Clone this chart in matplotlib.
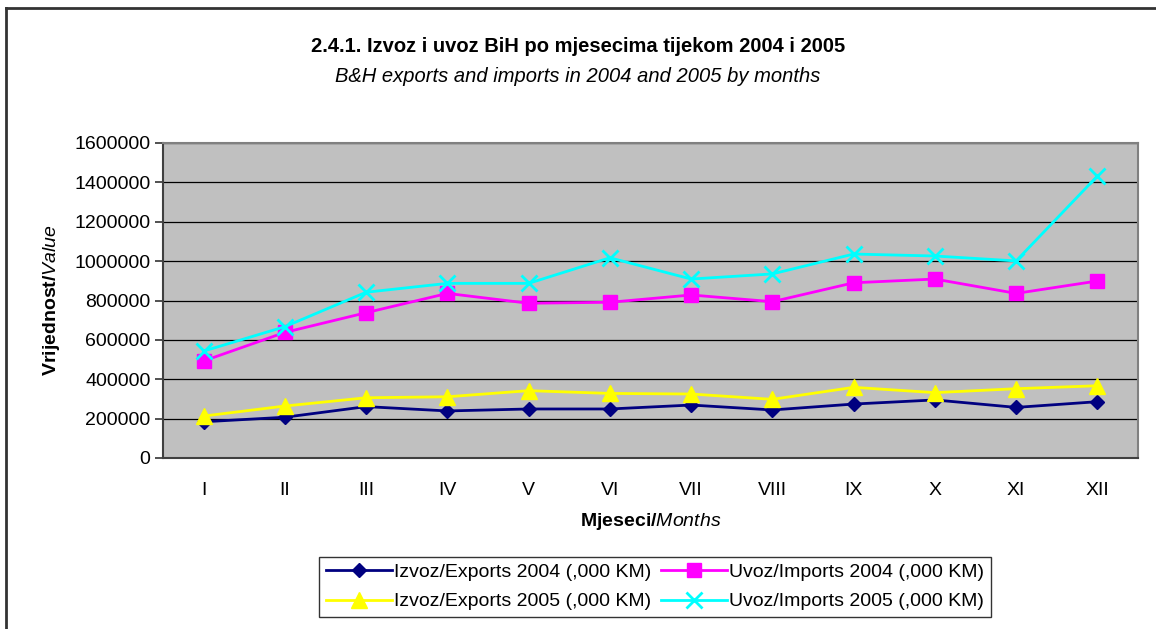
import numpy as np
import matplotlib
matplotlib.use('Agg')
import matplotlib.pyplot as plt
from matplotlib.lines import Line2D

plt.rcParams['font.family'] = ['Liberation Sans', 'DejaVu Sans']
plt.rcParams['mathtext.fontset'] = 'custom'
plt.rcParams['mathtext.rm'] = 'Liberation Sans'
plt.rcParams['mathtext.bf'] = 'Liberation Sans:bold'
plt.rcParams['mathtext.it'] = 'Liberation Sans:italic'

# Mjeseci (rimski brojevi)
mjeseci = ['I', 'II', 'III', 'IV', 'V', 'VI', 'VII', 'VIII', 'IX', 'X', 'XI', 'XII']

# Vrijednosti u ,000 KM (ocitano sa grafika)
izvoz2004 = [184000, 207000, 261000, 239000, 249000, 249000, 269000, 244000, 274000, 295000, 257000, 286000]
uvoz2004 = [493000, 638000, 738000, 836000, 786000, 791000, 828000, 794000, 890000, 909000, 836000, 899000]
izvoz2005 = [213000, 264000, 306000, 311000, 342000, 328000, 325000, 298000, 359000, 332000, 352000, 367000]
uvoz2005 = [543000, 667000, 842000, 887000, 887000, 1017000, 909000, 935000, 1036000, 1026000, 1001000, 1432000]

yticks = [0, 200000, 400000, 600000, 800000, 1000000, 1200000, 1400000, 1600000]

W, H = 1156, 629
fig = plt.figure(figsize=(W / 100, H / 100), dpi=100)
ax = fig.add_axes([163 / W, 1 - 458 / H, (1138 - 163) / W, (458 - 143) / H])
ax.set_facecolor('#C0C0C0')

x = np.arange(len(mjeseci))
l1, = ax.plot(x, izvoz2004, color='#000080', lw=2, marker='D', ms=7, label='Izvoz/Exports 2004 (,000 KM)')
l2, = ax.plot(x, uvoz2004, color='#FF00FF', lw=2, marker='s', ms=10, label='Uvoz/Imports 2004 (,000 KM)')
l3, = ax.plot(x, izvoz2005, color='#FFFF00', lw=2, marker='^', ms=11, label='Izvoz/Exports 2005 (,000 KM)')
l4, = ax.plot(x, uvoz2005, color='#00FFFF', lw=2, marker='x', ms=11, mew=2, label='Uvoz/Imports 2005 (,000 KM)')

ax.set_xlim(-0.5, len(mjeseci) - 0.5)
ax.set_ylim(0, 1600000)
ax.set_yticks(yticks)
ax.set_yticklabels([str(v) for v in yticks], fontsize=14)
ax.set_xticks(x)
ax.set_xticklabels(mjeseci, fontsize=14)
ax.tick_params(axis='x', length=0, pad=17)
ax.tick_params(axis='y', length=6, width=1.2, color='#333333', pad=3)
ax.yaxis.grid(True, color='black', lw=0.9)
ax.set_axisbelow(True)

for s in ['left', 'bottom']:
    ax.spines[s].set_color('#404040')
    ax.spines[s].set_linewidth(1.5)
for s in ['top', 'right']:
    ax.spines[s].set_color('#808080')
    ax.spines[s].set_linewidth(1.5)

ax.set_xlabel(r'$\mathbf{Mjeseci/}\mathit{Months}$', fontsize=14)
ax.set_ylabel(r'$\mathbf{Vrijednost/}\mathit{Value}$', fontsize=14)
ax.xaxis.set_label_coords(0.5, -(521 - 458) / 315, transform=ax.transAxes)
ax.xaxis.label.set_va('center')
ax.yaxis.set_label_coords((52 - 163) / 975, 0.5, transform=ax.transAxes)
ax.yaxis.label.set_va('center')

fig.text(578 / W, 1 - 47 / H, '2.4.1. Izvoz i uvoz BiH po mjesecima tijekom 2004 i 2005',
         ha='center', va='center', fontsize=14.5, fontweight='bold')
fig.text(578 / W, 1 - 76 / H, 'B&H exports and imports in 2004 and 2005 by months',
         ha='center', va='center', fontsize=14.5, style='italic')

leg = fig.legend(handles=[l1, l3, l2, l4], ncol=2, loc='center',
                 bbox_to_anchor=(655 / W, 1 - 587 / H), fontsize=14,
                 frameon=True, fancybox=False, edgecolor='black',
                 handlelength=3.4, handletextpad=0.1, columnspacing=0.5,
                 borderpad=0.35, labelspacing=0.6, borderaxespad=0)
leg.get_frame().set_linewidth(1.0)

# okvir grafikona (gornja i lijeva ivica)
fig.add_artist(Line2D([6 / W, 1], [1 - 8 / H, 1 - 8 / H], transform=fig.transFigure, color='#333333', lw=2))
fig.add_artist(Line2D([6 / W, 6 / W], [0, 1 - 8 / H], transform=fig.transFigure, color='#333333', lw=2))

fig.savefig('out.png', dpi=100)
